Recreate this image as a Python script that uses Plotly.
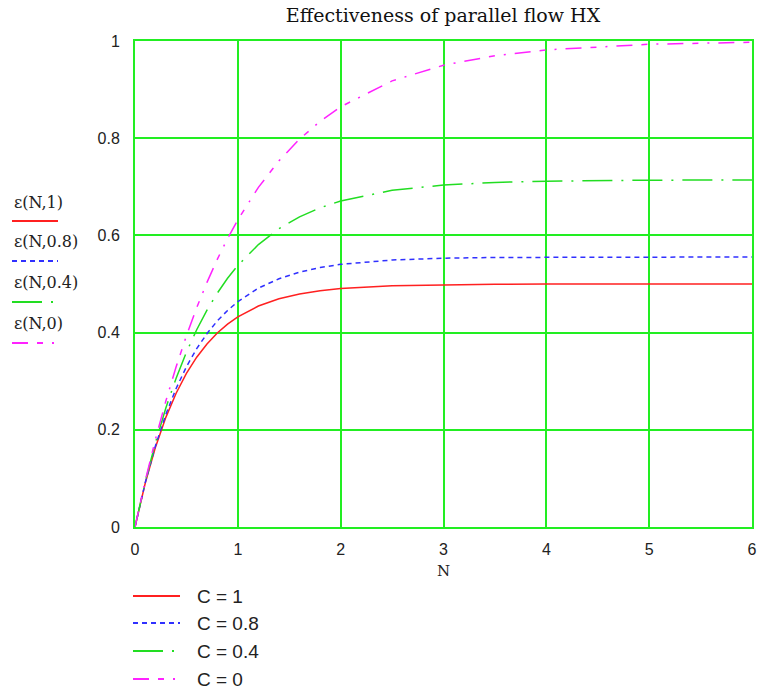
import plotly.graph_objects as go

# N values sampled
N = [0, 0.1, 0.2, 0.3, 0.4, 0.5, 0.6, 0.7, 0.8, 0.9, 1.0, 1.2, 1.4, 1.6, 1.8, 2.0, 2.5, 3.0, 3.5, 4.0, 5.0, 6.0]

eps_C1 = [0, 0.0906, 0.1648, 0.2256, 0.2753, 0.3161, 0.3494, 0.3767, 0.3991, 0.4174, 0.4323,
          0.4546, 0.4696, 0.4796, 0.4863, 0.4908, 0.4966, 0.4988, 0.4995, 0.4998, 0.5000, 0.5000]
eps_C08 = [0, 0.0915, 0.1679, 0.2318, 0.2851, 0.3297, 0.3669, 0.3980, 0.4239, 0.4456, 0.4637,
           0.4915, 0.5108, 0.5244, 0.5338, 0.5404, 0.5494, 0.5531, 0.5546, 0.5551, 0.5555, 0.5556]
eps_C04 = [0, 0.0933, 0.1744, 0.2450, 0.3063, 0.3596, 0.4059, 0.4462, 0.4812, 0.5117, 0.5381,
           0.5811, 0.6137, 0.6382, 0.6568, 0.6709, 0.6927, 0.7036, 0.7090, 0.7116, 0.7136, 0.7141]
eps_C0 = [0, 0.0952, 0.1813, 0.2592, 0.3297, 0.3935, 0.4512, 0.5034, 0.5507, 0.5934, 0.6321,
          0.6988, 0.7534, 0.7981, 0.8347, 0.8647, 0.9179, 0.9502, 0.9698, 0.9817, 0.9933, 0.9975]

series_names = ["\u03b5(N,1)", "\u03b5(N,0.8)", "\u03b5(N,0.4)", "\u03b5(N,0)"]
legend_labels = ["C = 1", "C = 0.8", "C = 0.4", "C = 0"]
x_ticks = [0, 1, 2, 3, 4, 5, 6]
y_ticks = [0, 0.2, 0.4, 0.6, 0.8, 1]
y_tick_text = ["0", "0.2", "0.4", "0.6", "0.8", "1"]

colors = ["#ff2020", "#3030ff", "#22dd22", "#ff22ff"]
dashes = ["solid", "5px,4px", "30px,9px,2px,9px", "16px,9px,6px,9px,2px,9px"]
values = [eps_C1, eps_C08, eps_C04, eps_C0]

W, H = 757, 692
L, R, T, B = 135, 5, 41, 165

fig = go.Figure()
for name, ys, c, d in zip(legend_labels, values, colors, dashes):
    fig.add_trace(go.Scatter(x=N, y=ys, mode="lines", name=name,
                             line=dict(color=c, width=1.5, dash=d), showlegend=False))

def px_x(p):
    return (p - L) / (W - L - R)

def px_y(p):
    return (H - B - p) / (H - T - B)

shapes = []
annotations = []
# left-side series labels with line samples
label_y = [202, 242, 282, 323]
line_y = [221, 261, 302, 343]
for name, ly, sy, c, d in zip(series_names, label_y, line_y, colors, dashes):
    annotations.append(dict(x=px_x(12), y=px_y(ly), xref="paper", yref="paper", text=name,
                            showarrow=False, xanchor="left", yanchor="middle",
                            font=dict(family="DejaVu Serif", size=16, color="#222")))
    shapes.append(dict(type="line", xref="paper", yref="paper", x0=px_x(12), x1=px_x(58),
                       y0=px_y(sy), y1=px_y(sy), line=dict(color=c, width=2, dash=d)))

# bottom legend
leg_y = [596, 623, 651, 679]
for lab, ly, c, d in zip(legend_labels, leg_y, colors, dashes):
    shapes.append(dict(type="line", xref="paper", yref="paper", x0=px_x(133), x1=px_x(180),
                       y0=px_y(ly), y1=px_y(ly), line=dict(color=c, width=2, dash=d)))
    annotations.append(dict(x=px_x(195), y=px_y(ly), xref="paper", yref="paper", text=lab,
                            showarrow=False, xanchor="left", yanchor="middle",
                            font=dict(family="Liberation Sans", size=19, color="#222")))

fig.update_layout(
    width=W, height=H,
    margin=dict(l=L, r=R, t=T, b=B, pad=0),
    plot_bgcolor="white", paper_bgcolor="white",
    title=dict(text="Effectiveness of parallel flow HX", xref="container", x=443 / W,
               xanchor="center", yref="container", y=1 - 15 / H, yanchor="middle",
               font=dict(family="DejaVu Serif", size=19, color="#111")),
    shapes=shapes, annotations=annotations,
    showlegend=False,
)
fig.update_xaxes(range=[0, 6], tickvals=x_ticks, showgrid=True, gridcolor="#22ee22", gridwidth=2,
                 showline=True, linecolor="#22ee22", linewidth=2, mirror=True, zeroline=False,
                 ticks="", ticklabelstandoff=7, automargin=False,
                 tickfont=dict(family="Liberation Sans", size=16, color="#222"),
                 title=dict(text="N", standoff=8, font=dict(family="DejaVu Serif", size=15, color="#222")))
fig.update_yaxes(range=[0, 1], tickvals=y_ticks, ticktext=y_tick_text,
                 showgrid=True, gridcolor="#22ee22", gridwidth=2,
                 showline=True, linecolor="#22ee22", linewidth=2, mirror=True, zeroline=False,
                 ticks="", ticklabelstandoff=10, automargin=False,
                 tickfont=dict(family="Liberation Sans", size=16, color="#222"))

fig.write_html("out.html", config={"displayModeBar": False},
               post_script="document.body.style.margin='0px';document.body.style.padding='0px';")
